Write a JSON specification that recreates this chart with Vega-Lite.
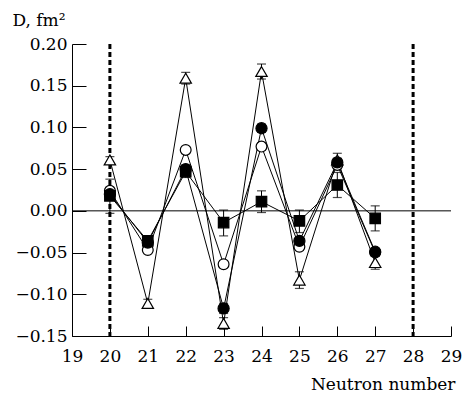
{
  "$schema": "https://vega.github.io/schema/vega-lite/v6.json",
  "width": 379,
  "height": 292,
  "autosize": {"type": "none"},
  "padding": {"top": 44, "left": 72, "right": 11, "bottom": 58},
  "background": "white",
  "config": {
    "view": {"stroke": null},
    "font": "DejaVu Serif",
    "axis": {
      "grid": false,
      "domainColor": "black",
      "domainWidth": 1,
      "tickColor": "black",
      "tickWidth": 1,
      "labelFont": "DejaVu Serif",
      "labelFontSize": 17,
      "labelColor": "black",
      "labelFlush": false,
      "labelOverlap": false,
      "titleFont": "DejaVu Serif",
      "titleFontSize": 17,
      "titleFontWeight": "normal",
      "titleColor": "black"
    }
  },
  "datasets": {
    "pts": [
      {"n": 20, "series": "T", "D": 0.061, "lo": 0.057, "hi": 0.065},
      {"n": 21, "series": "T", "D": -0.111, "lo": -0.116, "hi": -0.106},
      {"n": 22, "series": "T", "D": 0.159, "lo": 0.152, "hi": 0.166},
      {"n": 23, "series": "T", "D": -0.135, "lo": -0.142, "hi": -0.128},
      {"n": 24, "series": "T", "D": 0.167, "lo": 0.158, "hi": 0.176},
      {"n": 25, "series": "T", "D": -0.083, "lo": -0.093, "hi": -0.073},
      {"n": 26, "series": "T", "D": 0.061, "lo": 0.053, "hi": 0.069},
      {"n": 27, "series": "T", "D": -0.062, "lo": -0.070, "hi": -0.054},
      {"n": 20, "series": "O", "D": 0.024, "lo": 0.020, "hi": 0.028},
      {"n": 21, "series": "O", "D": -0.047, "lo": -0.050, "hi": -0.044},
      {"n": 22, "series": "O", "D": 0.073, "lo": 0.069, "hi": 0.077},
      {"n": 23, "series": "O", "D": -0.064, "lo": -0.068, "hi": -0.060},
      {"n": 24, "series": "O", "D": 0.077, "lo": 0.073, "hi": 0.081},
      {"n": 25, "series": "O", "D": -0.043, "lo": -0.047, "hi": -0.039},
      {"n": 26, "series": "O", "D": 0.055, "lo": 0.051, "hi": 0.059},
      {"n": 27, "series": "O", "D": -0.050, "lo": -0.054, "hi": -0.046},
      {"n": 20, "series": "F", "D": 0.020, "lo": 0.014, "hi": 0.026},
      {"n": 21, "series": "F", "D": -0.038, "lo": -0.042, "hi": -0.034},
      {"n": 22, "series": "F", "D": 0.050, "lo": 0.045, "hi": 0.055},
      {"n": 23, "series": "F", "D": -0.117, "lo": -0.123, "hi": -0.111},
      {"n": 24, "series": "F", "D": 0.099, "lo": 0.094, "hi": 0.104},
      {"n": 25, "series": "F", "D": -0.036, "lo": -0.040, "hi": -0.032},
      {"n": 26, "series": "F", "D": 0.058, "lo": 0.053, "hi": 0.063},
      {"n": 27, "series": "F", "D": -0.049, "lo": -0.053, "hi": -0.045},
      {"n": 20, "series": "S", "D": 0.018, "lo": -0.003, "hi": 0.038},
      {"n": 21, "series": "S", "D": -0.036, "lo": -0.040, "hi": -0.032},
      {"n": 22, "series": "S", "D": 0.047, "lo": 0.040, "hi": 0.054},
      {"n": 23, "series": "S", "D": -0.014, "lo": -0.030, "hi": 0.001},
      {"n": 24, "series": "S", "D": 0.011, "lo": -0.002, "hi": 0.024},
      {"n": 25, "series": "S", "D": -0.012, "lo": -0.026, "hi": 0.001},
      {"n": 26, "series": "S", "D": 0.031, "lo": 0.016, "hi": 0.046},
      {"n": 27, "series": "S", "D": -0.009, "lo": -0.024, "hi": 0.006}
    ],
    "vlines": [{"n": 20}, {"n": 28}]
  },
  "data": {"name": "pts"},
  "encoding": {
    "x": {
      "field": "n",
      "type": "quantitative",
      "scale": {"domain": [19, 29], "nice": false, "zero": false},
      "axis": {
        "values": [19, 20, 21, 22, 23, 24, 25, 26, 27, 28, 29],
        "format": "d",
        "tickSize": -10,
        "labelPadding": 22,
        "labelBaseline": "top",
        "title": "Neutron number",
        "titleAnchor": "end",
        "titleAlign": "right",
        "titleBaseline": "alphabetic",
        "titleX": 383,
        "titleY": 53
      }
    },
    "y": {
      "field": "D",
      "type": "quantitative",
      "scale": {"domain": [-0.15, 0.2], "nice": false, "zero": false},
      "axis": {
        "values": [-0.15, -0.1, -0.05, 0, 0.05, 0.1, 0.15, 0.2],
        "format": ".2f",
        "tickSize": -14,
        "labelPadding": 19,
        "title": "D, fm²",
        "titleAngle": 0,
        "titleAlign": "left",
        "titleBaseline": "alphabetic",
        "titleX": -60,
        "titleY": -19
      }
    }
  },
  "layer": [
    {
      "data": {"name": "vlines"},
      "mark": {"type": "rule", "color": "black", "strokeWidth": 3, "strokeDash": [5, 3]},
      "encoding": {"x": {"field": "n", "type": "quantitative"}, "y": null}
    },
    {
      "data": {"values": [{"z": 0}]},
      "mark": {"type": "rule", "color": "black", "strokeWidth": 1},
      "encoding": {"y": {"field": "z", "type": "quantitative"}, "x": null}
    },
    {
      "mark": {"type": "line", "color": "black", "strokeWidth": 1},
      "encoding": {"detail": {"field": "series"}}
    },
    {
      "mark": {"type": "rule", "color": "black", "strokeWidth": 1},
      "encoding": {
        "y": {"field": "lo", "type": "quantitative"},
        "y2": {"field": "hi"}
      }
    },
    {
      "mark": {"type": "tick", "color": "black", "orient": "horizontal", "size": 9, "thickness": 1.2},
      "encoding": {"y": {"field": "lo", "type": "quantitative"}}
    },
    {
      "mark": {"type": "tick", "color": "black", "orient": "horizontal", "size": 9, "thickness": 1.2},
      "encoding": {"y": {"field": "hi", "type": "quantitative"}}
    },
    {
      "mark": {"type": "point", "opacity": 1, "strokeWidth": 1.2, "stroke": "black"},
      "encoding": {
        "shape": {
          "field": "series",
          "type": "nominal",
          "scale": {"domain": ["T", "F", "O", "S"], "range": ["triangle-up", "circle", "circle", "square"]},
          "legend": null
        },
        "fill": {
          "field": "series",
          "type": "nominal",
          "scale": {"domain": ["T", "F", "O", "S"], "range": ["white", "black", "white", "black"]},
          "legend": null
        },
        "size": {
          "field": "series",
          "type": "nominal",
          "scale": {"domain": ["T", "F", "O", "S"], "range": [130, 110, 110, 75]},
          "legend": null
        }
      }
    }
  ]
}
